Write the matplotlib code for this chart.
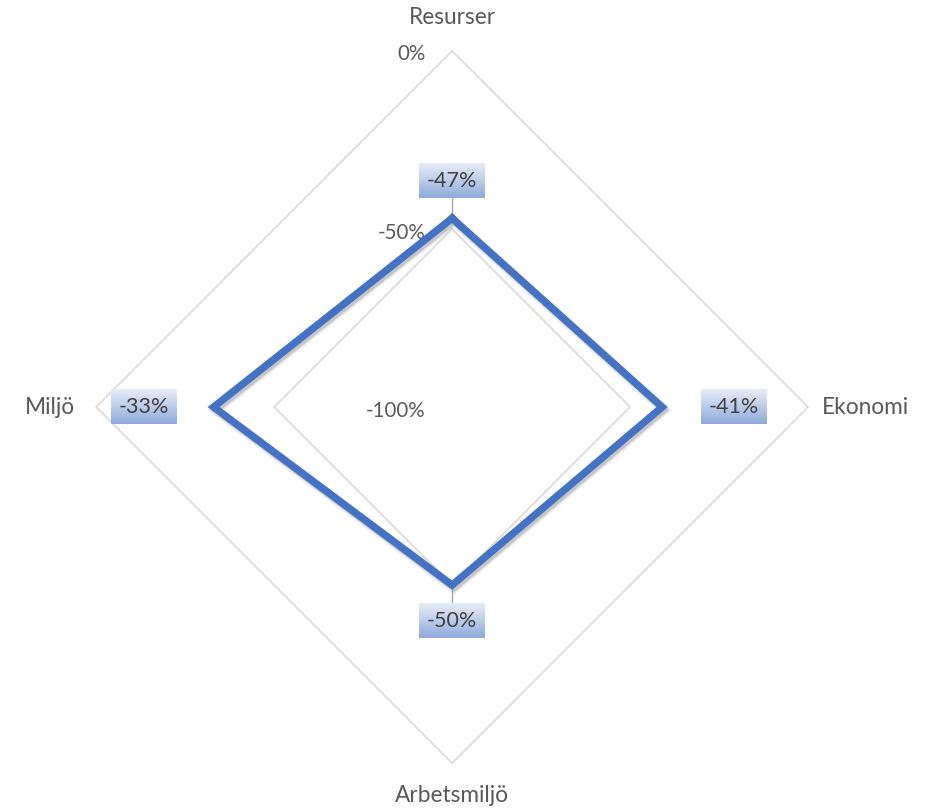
import numpy as np
import matplotlib
matplotlib.use('Agg')
import matplotlib.pyplot as plt
from matplotlib import transforms
from matplotlib.colors import LinearSegmentedColormap

categories = ['Resurser', 'Ekonomi', 'Arbetsmiljö', 'Miljö']
values = [-0.47, -0.41, -0.50, -0.33]
labels = ['-47%', '-41%', '-50%', '-33%']
ticks = [-1.0, -0.5, 0.0]
tick_labels = ['-100%', '-50%', '0%']

plt.rcParams['font.family'] = ['Lato', 'DejaVu Sans']
txt = '#595959'

# angles: top, right, bottom, left
ang = np.pi / 2 - np.arange(len(categories)) * np.pi / 2

def xy(vals):
    r = np.asarray(vals) + 1.0
    return r * np.cos(ang), r * np.sin(ang)

fig = plt.figure(figsize=(9.27, 8.08), dpi=100)
ax = fig.add_axes([0, 0, 1, 1])
ax.set_xlim(-1.270, 1.334)
ax.set_ylim(-1.126, 1.143)
ax.set_aspect('equal')
ax.axis('off')

# grid diamonds
for t in ticks:
    gx, gy = xy([t] * 4)
    ax.plot(np.append(gx, gx[0]), np.append(gy, gy[0]), color='#d9d9d9', lw=1.2, zorder=1)

# tick labels on the vertical axis
for t, lab in zip(ticks, tick_labels):
    ax.text(-0.075, t + 1.0 - 0.01, lab, ha='right', va='center', fontsize=14.8, color=txt)

# series with a soft shadow
px, py = xy(values)
px = np.append(px, px[0])
py = np.append(py, py[0])
shadow = transforms.offset_copy(ax.transData, fig=fig, x=2, y=-3, units='dots')
for w, a in [(8, 0.08), (6, 0.15), (4.5, 0.3)]:
    ax.plot(px, py, color='#808080', lw=w, alpha=a, transform=shadow, zorder=2,
            solid_joinstyle='miter')
ax.plot(px, py, color='#4472C4', lw=5.3, zorder=3, solid_joinstyle='miter')

# category labels
fs = 16.3
ax.text(0, 1.093, categories[0], ha='center', va='center', fontsize=fs, color=txt)
ax.text(1.04, 0.0, categories[1], ha='left', va='center', fontsize=fs, color=txt)
ax.text(0, -1.09, categories[2], ha='center', va='center', fontsize=fs, color=txt)
ax.text(-1.06, 0.0, categories[3], ha='right', va='center', fontsize=fs, color=txt)

# data labels with gradient boxes
cmap = LinearSegmentedColormap.from_list('lbl', ['#e8eef8', '#8eaadb'])
grad = np.linspace(0, 1, 64).reshape(-1, 1)
bw, bh = 0.185, 0.098
offsets = [(0, 0.105), (0.202, 0), (0, -0.10), (-0.197, 0)]
for i, (dx, dy) in enumerate(offsets):
    cx, cy = px[i] + dx, py[i] + dy
    ax.imshow(grad, cmap=cmap, aspect='auto', zorder=4,
              extent=(cx - bw / 2, cx + bw / 2, cy - bh / 2, cy + bh / 2), origin='upper')
    ax.text(cx, cy, labels[i], ha='center', va='center', fontsize=15.5, color='#404040', zorder=5)
    if dx == 0:
        edge = cy - np.sign(dy) * bh / 2
        ax.plot([px[i], px[i]], [py[i], edge], color='#a6a6a6', lw=1, zorder=2)

ax.set_xlim(-1.270, 1.334)
ax.set_ylim(-1.126, 1.143)
fig.savefig('out.png', dpi=100)
